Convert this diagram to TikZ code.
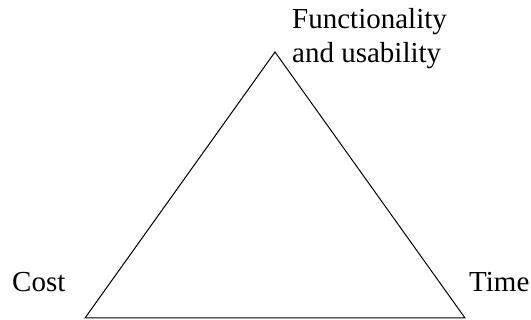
\documentclass[tikz,border=0pt]{standalone}
\usepackage{fontspec}
\setmainfont{Liberation Serif}
\usepackage{tikz}
\usetikzlibrary{calc}
\usetikzlibrary{positioning}

\tikzset{
	corner label/.style={inner sep=0pt, font=\fontsize{29}{34}\selectfont},
	side/.style={line width=1pt, line join=miter}
}

\begin{document}
\begin{tikzpicture}[x=1pt, y=1pt]
				\useasboundingbox (0,0) rectangle (531,320);
				
				\coordinate (F) at (275,268);
				\coordinate (C) at (85,2);
				\coordinate (T) at (465,2);
				
				\node[corner label, anchor=north west, align=left] (funclabel) at (292,312) {Functionality\\and usability};
				\node[corner label, anchor=base west] (costlabel) at (12,28) {Cost};
				\node[corner label, anchor=base west] (timelabel) at (469,28) {Time};
				
				\draw[side] (C) -- (F) -- (T) -- cycle;
			\end{tikzpicture}
\end{document}
